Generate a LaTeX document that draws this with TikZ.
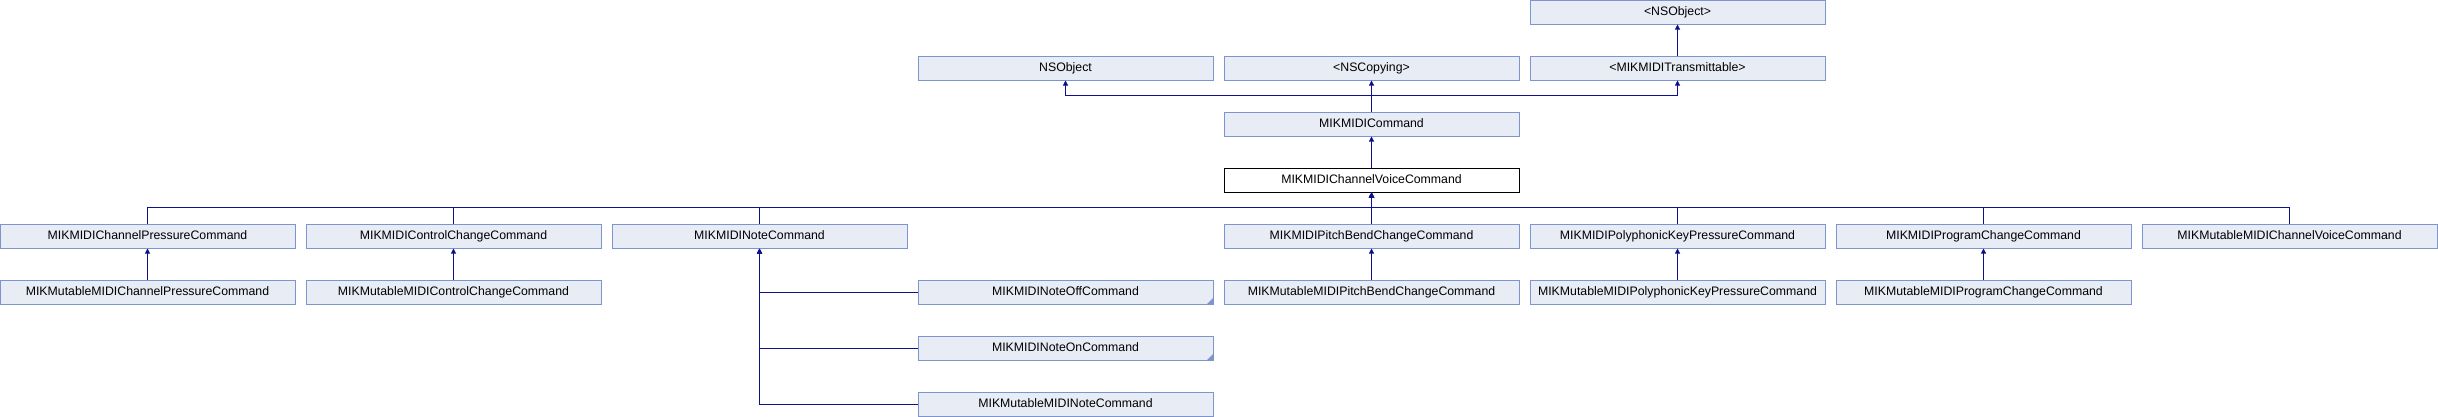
\documentclass[tikz,border=0pt]{standalone}
\usepackage{fontspec}
\setmainfont{Liberation Sans}
\usepackage{xcolor}
\usepackage{tikz}
\usetikzlibrary{arrows.meta}
\definecolor{boxfill}{RGB}{232,236,245}
\definecolor{boxline}{RGB}{124,149,204}
\definecolor{edge}{RGB}{16,16,140}
\tikzset{
    cls/.style={rectangle, minimum width=295pt, minimum height=24pt, inner sep=0pt, text height=9pt, text depth=2.6pt, text centered, draw=boxline, fill=boxfill, line width=1pt, font=\fontsize{12.3}{14}\selectfont},
    current/.style={cls, draw=black, fill=white},
    inh/.style={-{Triangle[length=5pt,width=5pt]}, draw=edge, line width=1pt},
    fold/.style={fill=boxline}
}

\begin{document}
\begin{tikzpicture}[x=1pt, y=-1pt]
    \useasboundingbox (0,0) rectangle (2438,416);
    % Protocols and base class
    \node[cls] (nsobjectproto) at (1677.5,12) {<NSObject>};
    \node[cls] (nsobject) at (1065.5,68) {NSObject};
    \node[cls] (nscopying) at (1371.5,68) {<NSCopying>};
    \node[cls] (transmittable) at (1677.5,68) {<MIKMIDITransmittable>};
    \node[cls] (command) at (1371.5,124) {MIKMIDICommand};
    \node[current] (channelvoice) at (1371.5,180) {MIKMIDIChannelVoiceCommand};
      % Subclasses of the channel voice command
    \node[cls] (channelpressure) at (147.5,236) {MIKMIDIChannelPressureCommand};
    \node[cls] (controlchange) at (453.5,236) {MIKMIDIControlChangeCommand};
    \node[cls] (note) at (759.5,236) {MIKMIDINoteCommand};
    \node[cls] (pitchbend) at (1371.5,236) {MIKMIDIPitchBendChangeCommand};
    \node[cls] (polykey) at (1677.5,236) {MIKMIDIPolyphonicKeyPressureCommand};
    \node[cls] (programchange) at (1983.5,236) {MIKMIDIProgramChangeCommand};
    \node[cls] (mutchannelvoice) at (2289.5,236) {MIKMutableMIDIChannelVoiceCommand};
      % Mutable variants
    \node[cls] (mutchannelpressure) at (147.5,292) {MIKMutableMIDIChannelPressureCommand};
    \node[cls] (mutcontrolchange) at (453.5,292) {MIKMutableMIDIControlChangeCommand};
    \node[cls] (noteoff) at (1065.5,292) {MIKMIDINoteOffCommand};
    \node[cls] (mutpitchbend) at (1371.5,292) {MIKMutableMIDIPitchBendChangeCommand};
    \node[cls] (mutpolykey) at (1677.5,292) {MIKMutableMIDIPolyphonicKeyPressureCommand};
    \node[cls] (mutprogramchange) at (1983.5,292) {MIKMutableMIDIProgramChangeCommand};
    \node[cls] (noteon) at (1065.5,348) {MIKMIDINoteOnCommand};
    \node[cls] (mutnote) at (1065.5,404) {MIKMutableMIDINoteCommand};

    % Folded corners
    \fill[fold] (noteoff.south east) -- ++(-7,0) -- ++(7,-7) -- cycle;
    \fill[fold] (noteon.south east) -- ++(-7,0) -- ++(7,-7) -- cycle;

    % Inheritance
    \draw[inh] (transmittable) -- (nsobjectproto);
    \draw[inh] (command.north) -- ++(0,-16) -| (nsobject.south);
    \draw[inh] (command.north) -- ++(0,-16) -| (nscopying.south);
    \draw[inh] (command.north) -- ++(0,-16) -| (transmittable.south);
    \draw[inh] (channelvoice) -- (command);
    \foreach \child in {channelpressure, controlchange, note, pitchbend, polykey, programchange, mutchannelvoice}
        \draw[inh] (\child.north) -- ++(0,-16) -| (channelvoice.south);
    \draw[inh] (mutchannelpressure) -- (channelpressure);
    \draw[inh] (mutcontrolchange) -- (controlchange);
    \draw[inh] (mutpitchbend) -- (pitchbend);
    \draw[inh] (mutpolykey) -- (polykey);
    \draw[inh] (mutprogramchange) -- (programchange);
    \draw[inh] (noteoff.west) -| (note.south);
    \draw[inh] (noteon.west) -| (note.south);
    \draw[inh] (mutnote.west) -| (note.south);
\end{tikzpicture}
\end{document}
